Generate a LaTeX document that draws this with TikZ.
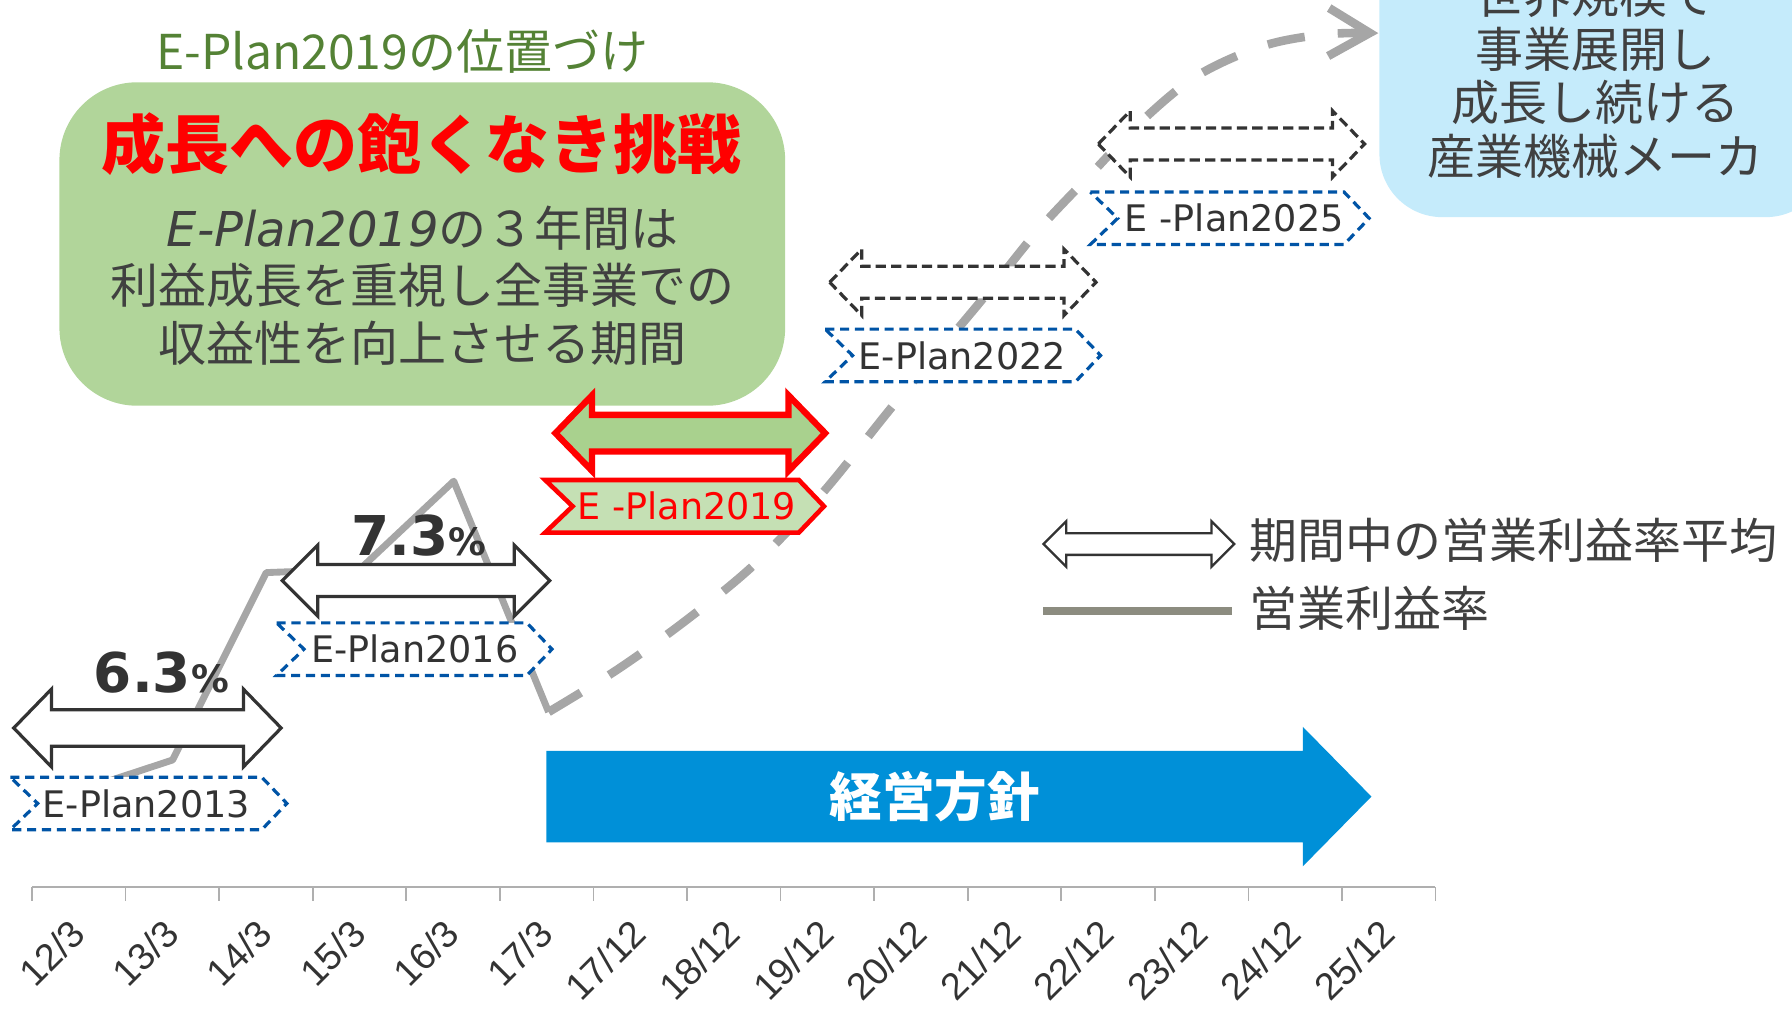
\documentclass[tikz,border=0pt]{standalone}
\usepackage{fontspec}
\newfontfamily\cjk{Noto Sans CJK JP}
\newfontfamily\dvs{DejaVu Sans}
\newfontfamily\lib{Liberation Sans}
\usetikzlibrary{arrows.meta}
\definecolor{txt}{RGB}{64,64,64}
\definecolor{dk}{RGB}{51,51,51}
\definecolor{boxgreen}{RGB}{177,213,154}
\definecolor{ttlgreen}{RGB}{84,130,53}
\definecolor{skyblue}{RGB}{197,235,251}
\definecolor{planblue}{RGB}{0,84,166}
\definecolor{arrowgreen}{RGB}{169,209,142}
\definecolor{tagfill}{RGB}{197,224,180}
\definecolor{polblue}{RGB}{0,144,216}
\definecolor{linegray}{RGB}{166,166,166}
\definecolor{leggray}{RGB}{140,140,128}
\definecolor{axgray}{RGB}{175,175,175}
% double block arrow: style, x1, x2, yc, head length, head half height, shaft half height
\newcommand\dblarrow[7]{\draw[#1] (#2,#4) -- (#2+#5,#4-#6) -- (#2+#5,#4-#7) -- (#3-#5,#4-#7) -- (#3-#5,#4-#6) -- (#3,#4) -- (#3-#5,#4+#6) -- (#3-#5,#4+#7) -- (#2+#5,#4+#7) -- (#2+#5,#4+#6) -- cycle;}
% plan tag: style, x1, x2, yc
\newcommand\plantag[4]{\draw[#1] (#2,#4-23) -- (#3,#4-23) -- (#3+22,#4) -- (#3,#4+23) -- (#2,#4+23) -- (#2+24,#4) -- cycle;}
\begin{document}
\begin{tikzpicture}[x=1pt,y=-1pt,
  every node/.style={inner sep=0pt},
  tagblue/.style={draw=planblue, line width=2.8pt, dash pattern=on 8pt off 5pt, fill=white},
  arrowdark/.style={draw=dk, line width=2.8pt, fill=white},
  arrowdash/.style={draw=dk, line width=2.8pt, fill=white, dash pattern=on 9pt off 4.5pt},
  tagred/.style={draw=red, line width=4pt, fill=tagfill},
  arrowred/.style={draw=red, line width=5.5pt, fill=arrowgreen},
  taglabel/.style={font=\dvs\fontsize{32}{38}\selectfont, text=dk},
  ticklab/.style={font=\lib\fontsize{33}{40}\selectfont, text=dk, rotate=45, anchor=north east},
  bodytext/.style={font=\cjk\fontsize{42}{50}\selectfont, text=txt},
  pct/.style={font=\dvs\bfseries\fontsize{48}{56}\selectfont, text=dk, anchor=base west},
  profit/.style={draw=linegray, line width=6pt, line join=round},
  forecast/.style={draw=linegray, line width=7.5pt, dash pattern=on 33pt off 29pt,
     -{Straight Barb[length=36pt, width=42pt]}}
]
\useasboundingbox (0,0) rectangle (1568,886);
\clip (0,0) rectangle (1568,886);

% ---- axis ----
\coordinate (ax0) at (28,776);
\coordinate (ax1) at (1256,776);
\draw[axgray, line width=1.5pt] (ax0) -- (ax1);
\foreach \k in {0,...,15} {
  \draw[axgray, line width=1.5pt] (28+81.87*\k,776) -- (28+81.87*\k,788);
}
\foreach \lab [count=\i from 0] in {12/3,13/3,14/3,15/3,16/3,17/3,17/12,18/12,19/12,20/12,21/12,22/12,23/12,24/12,25/12} {
  \node[ticklab] (tick\i) at (59.5+81.87*\i,802) {\lab};
}

% ---- boxes ----
\fill[boxgreen, rounded corners=68pt] (52,72) rectangle (687,355);
\fill[skyblue, rounded corners=55pt] (1207,-90) rectangle (1600,190);

\node[font=\cjk\fontsize{42}{50}\selectfont, text=ttlgreen] (ttl) at (352,45) {E-Plan2019の位置づけ};
\node[font=\cjk\bfseries\fontsize{56}{64}\selectfont, text=red] (slogan) at (369,126) {成長への飽くなき挑戦};
\node[bodytext] (b1) at (370,200) {{\dvs\itshape E-Plan2019}の３年間は};
\node[bodytext] (b2) at (370,250) {利益成長を重視し全事業での};
\node[bodytext] (b3) at (370,300) {収益性を向上させる期間};

\node[bodytext] (v0) at (1396,-4) {世界規模で};
\node[bodytext] (v1) at (1396,43) {事業展開し};
\node[bodytext] (v2) at (1396,90) {成長し続ける};
\node[bodytext] (v3) at (1396,137) {産業機械メーカ};

% ---- policy arrow ----
\fill[polblue] (478,657) -- (1140,657) -- (1140,636) -- (1200,697) -- (1140,758) -- (1140,737) -- (478,737) -- cycle;
\node[font=\cjk\bfseries\fontsize{46}{54}\selectfont, text=white] (policy) at (818,697) {経営方針};

% ---- profit line ----
\coordinate (p0) at (69,692);
\coordinate (p1) at (151,665);
\coordinate (p2) at (233,501);
\coordinate (p3) at (315,498);
\coordinate (p4) at (397,421);
\coordinate (p5) at (480,623);
\draw[profit] (p0) -- (p1) -- (p2) -- (p3) -- (p4) -- (p5);
\draw[forecast] plot[smooth, tension=0.55] coordinates {(480,623) (540,586) (600,543) (660,494) (720,431) (783,353) (857,265) (907,203) (954,153) (1000,105) (1048,66) (1106,40) (1160,30) (1206,29)};

% ---- period arrows and tags ----
\dblarrow{arrowdark}{12}{246}{637}{33}{34}{16}
\plantag{tagblue}{9}{229}{703}
\node[taglabel] (t13) at (128,703) {E-Plan2013};
\node[pct] (r13) at (82,606) {6.3{\fontsize{33}{38}\selectfont\%}};

\dblarrow{arrowdark}{247}{481}{508}{31}{31}{14}
\plantag{tagblue}{242}{461}{568}
\node[taglabel] (t16) at (363,568) {E-Plan2016};
\node[pct] (r16) at (307,486) {7.3{\fontsize{33}{38}\selectfont\%}};

\dblarrow{arrowred}{486}{722}{379}{32}{33}{16}
\plantag{tagred}{477}{699}{443}
\node[taglabel, text=red] (t19) at (601,443) {E -Plan2019};

\dblarrow{arrowdash}{726}{959}{247}{28}{29}{14}
\plantag{tagblue}{722}{941}{311}
\node[taglabel] (t22) at (842,311) {E-Plan2022};

\dblarrow{arrowdash}{961}{1194}{126}{28}{29}{14}
\plantag{tagblue}{954}{1176}{191}
\node[taglabel] (t25) at (1080,191) {E -Plan2025};

% ---- legend ----
\dblarrow{draw=dk, line width=2pt, fill=white}{913}{1080}{476}{20}{20}{9.5}
\coordinate (lg0) at (913,534.5);
\coordinate (lg1) at (1078,534.5);
\draw[leggray, line width=7pt] (lg0) -- (lg1);
\node[font=\cjk\fontsize{42}{50}\selectfont, text=txt, anchor=west] (leg1) at (1093,473) {期間中の営業利益率平均};
\node[font=\cjk\fontsize{42}{50}\selectfont, text=txt, anchor=west] (leg2) at (1093,532) {営業利益率};
\end{tikzpicture}
\end{document}
